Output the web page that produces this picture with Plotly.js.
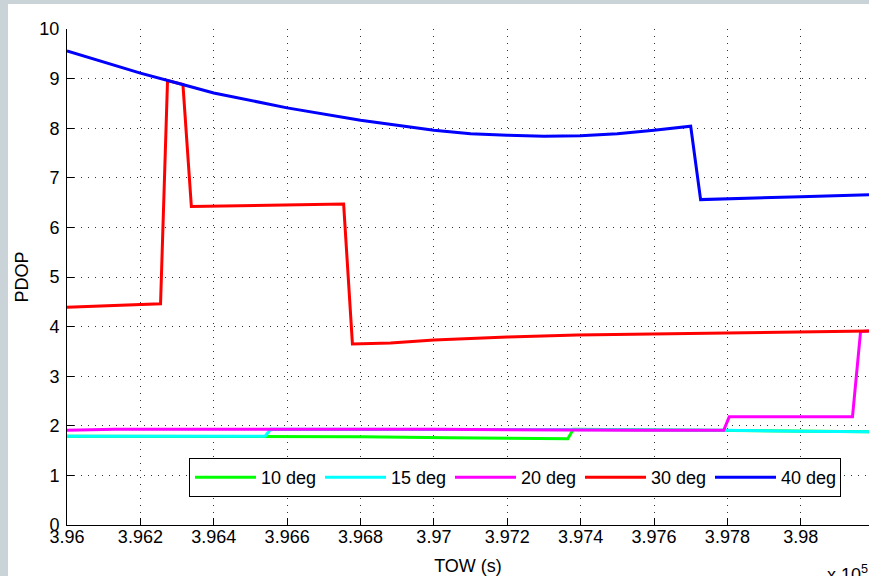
<!DOCTYPE html>
<html>
<head>
<meta charset="utf-8">
<script src="https://cdn.plot.ly/plotly-3.0.1.min.js"></script>
<style>
  html, body { margin: 0; padding: 0; background: #c9d3d8; width: 869px; height: 576px; overflow: hidden; }
  #fig { position: absolute; left: 8px; top: 4px; width: 861px; height: 572px; background: #ffffff; }
</style>
</head>
<body>
<div id="fig"></div>
<script>
// PDOP versus time of week for several elevation mask angles (TOW in units of 1e5 s)
const seriesNames = ['10 deg', '15 deg', '20 deg', '30 deg', '40 deg'];
const seriesColors = ['#00ff00', '#00ffff', '#ff00ff', '#ff0000', '#0000ff'];

const tow10 = [3.9600, 3.9654, 3.9680, 3.9704, 3.9724, 3.97365, 3.9738, 3.9760, 3.9779, 3.9800, 3.98186];
const pdop10 = [1.79, 1.79, 1.78, 1.76, 1.75, 1.74, 1.93, 1.92, 1.91, 1.89, 1.88];

const tow15 = [3.9600, 3.9654, 3.96555, 3.9700, 3.9750, 3.9779, 3.9785, 3.9800, 3.98186];
const pdop15 = [1.79, 1.79, 1.93, 1.93, 1.92, 1.91, 1.90, 1.89, 1.88];

const tow20 = [3.9600, 3.9613, 3.9650, 3.9700, 3.9755, 3.9779, 3.97805, 3.9800, 3.98141, 3.98163, 3.98186];
const pdop20 = [1.91, 1.93, 1.93, 1.93, 1.91, 1.91, 2.18, 2.18, 2.18, 3.90, 3.91];

const tow30 = [3.9600, 3.96255, 3.96274, 3.9630, 3.96316, 3.96339, 3.9650, 3.9660, 3.96754, 3.96778, 3.96882, 3.9700, 3.9720, 3.9739, 3.9759, 3.9779, 3.9799, 3.98136, 3.98186];
const pdop30 = [4.39, 4.46, 8.96, 8.92, 8.88, 6.42, 6.44, 6.46, 6.47, 3.65, 3.67, 3.73, 3.79, 3.83, 3.85, 3.87, 3.89, 3.91, 3.91];

const tow40 = [3.9600, 3.9610, 3.9620, 3.9630, 3.9640, 3.9660, 3.9680, 3.9700, 3.9710, 3.9720, 3.9730, 3.9740, 3.9750, 3.9760, 3.9770, 3.97727, 3.9780, 3.9800, 3.98186];
const pdop40 = [9.56, 9.33, 9.11, 8.91, 8.71, 8.41, 8.16, 7.96, 7.89, 7.86, 7.84, 7.85, 7.89, 7.96, 8.04, 6.56, 6.58, 6.62, 6.66];

const xTickVals = [3.960, 3.962, 3.964, 3.966, 3.968, 3.970, 3.972, 3.974, 3.976, 3.978, 3.980];
const xTickText = ['3.96', '3.962', '3.964', '3.966', '3.968', '3.97', '3.972', '3.974', '3.976', '3.978', '3.98'];
const yTickVals = [0, 1, 2, 3, 4, 5, 6, 7, 8, 9, 10];

const towSets = [tow10, tow15, tow20, tow30, tow40];
const pdopSets = [pdop10, pdop15, pdop20, pdop30, pdop40];

const traces = seriesNames.map((name, i) => ({
  type: 'scatter',
  mode: 'lines',
  name: name,
  x: towSets[i],
  y: pdopSets[i],
  line: { color: seriesColors[i], width: 3 }
}));

const FONT = 'Liberation Sans, Arial, Helvetica, sans-serif';
const dotGrid = '1px,6px';

const layout = {
  width: 861,
  height: 572,
  margin: { l: 59, r: 0, t: 25, b: 51, pad: 0, autoexpand: false },
  paper_bgcolor: '#ffffff',
  plot_bgcolor: '#ffffff',
  font: { family: FONT, size: 18, color: '#000000' },
  showlegend: true,
  legend: {
    orientation: 'h',
    x: 0.1521, xanchor: 'left',
    y: 0.1351, yanchor: 'top',
    bgcolor: '#ffffff',
    bordercolor: '#000000',
    borderwidth: 1,
    itemwidth: 61,
    entrywidth: 54,
    font: { family: FONT, size: 18, color: '#000000' },
    traceorder: 'normal'
  },
  xaxis: {
    range: [3.96, 3.98186],
    tickmode: 'array',
    tickvals: xTickVals,
    ticktext: xTickText,
    ticks: 'inside',
    ticklen: 7,
    tickcolor: '#000000',
    showline: true,
    linecolor: '#000000',
    linewidth: 1,
    mirror: false,
    zeroline: false,
    showgrid: true,
    gridcolor: '#333333',
    gridwidth: 1,
    griddash: dotGrid,
    ticklabelstandoff: -5,
    tickfont: { family: FONT, size: 18, color: '#000000' },
    title: { text: 'TOW (s)', font: { family: FONT, size: 18, color: '#000000' }, standoff: 13 },
    automargin: false
  },
  yaxis: {
    range: [0, 10],
    tickmode: 'array',
    tickvals: yTickVals,
    ticks: 'inside',
    ticklen: 7,
    tickcolor: '#000000',
    showline: true,
    linecolor: '#000000',
    linewidth: 1,
    mirror: false,
    zeroline: false,
    showgrid: true,
    gridcolor: '#333333',
    gridwidth: 1,
    griddash: dotGrid,
    ticklabelstandoff: 3,
    tickfont: { family: FONT, size: 18, color: '#000000' },
    title: { text: 'PDOP', font: { family: FONT, size: 18, color: '#000000' }, standoff: 6 },
    automargin: false
  },
  annotations: [
    {
      text: 'x 10<sup>5</sup>',
      xref: 'paper', yref: 'paper',
      x: (817 - 59) / 802, xanchor: 'left',
      y: -(556 - 521) / 496, yanchor: 'top',
      showarrow: false,
      font: { family: FONT, size: 18, color: '#000000' }
    }
  ]
};

Plotly.newPlot('fig', traces, layout, { displayModeBar: false, staticPlot: true });
</script>
</body>
</html>
